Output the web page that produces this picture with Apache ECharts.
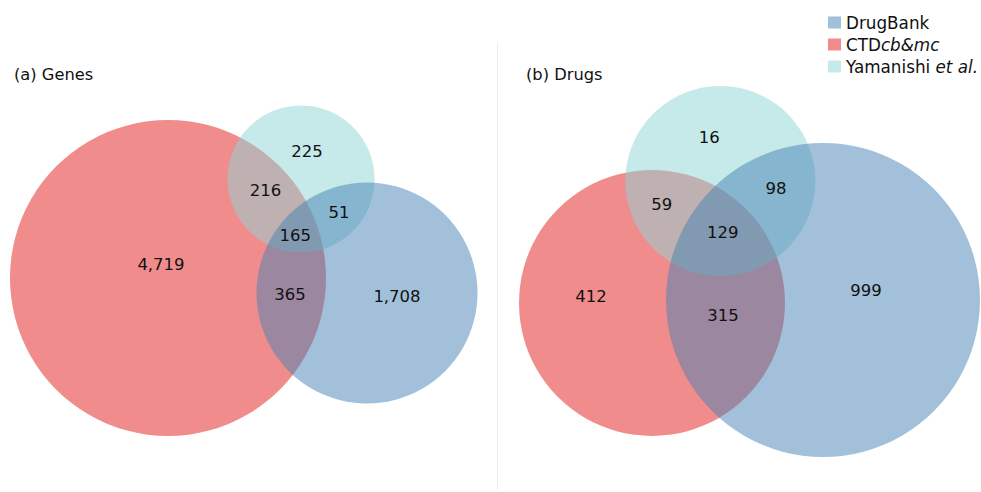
<!DOCTYPE html>
<html>
<head>
<meta charset="utf-8">
<script src="https://cdn.jsdelivr.net/npm/echarts@6/dist/echarts.min.js"></script>
<style>
  html, body { margin: 0; padding: 0; background: #fff; }
  #chart { width: 981px; height: 492px; }
</style>
</head>
<body>
<div id="chart"></div>
<script>
// Set names as they appear in the legend (display order)
const setNames = ['DrugBank', 'CTD', 'Yamanishi'];

// Venn regions, in the same order for both panels
const regionKeys = ['CTD only', 'CTD & DrugBank', 'CTD & Yamanishi', 'All three',
                    'DrugBank only', 'DrugBank & Yamanishi', 'Yamanishi only'];

// Counts per region
const geneCounts = [4719, 365, 216, 165, 1708, 51, 225];
const drugCounts = [412, 315, 59, 129, 999, 98, 16];

// Panel titles
const panelTitles = ['(a) Genes', '(b) Drugs'];

// ---- layout (canvas units: 1 unit = 1 px) ----
// circle geometry [cx, cy, r] per set, per panel
const geneCircles = { CTD: [168, 278, 158], DrugBank: [367, 293, 110.5], Yamanishi: [301, 179, 73.5] };
const drugCircles = { CTD: [652, 303, 133], DrugBank: [823, 300, 157], Yamanishi: [720.3, 181, 95] };
// label anchor per region (same order as regionKeys)
const geneLabelPos = [[161, 264], [290, 294], [265.5, 190.3], [295.3, 235.5], [397, 296], [339, 212], [307, 151]];
const drugLabelPos = [[591, 296], [723, 315], [661.7, 204.7], [722.8, 232.5], [866, 290], [776, 188.7], [709.3, 137.8]];

const setColors = {
  CTD: 'rgba(228, 26, 28, 0.5)',
  Yamanishi: 'rgba(141, 213, 213, 0.5)',
  DrugBank: 'rgba(70, 130, 180, 0.5)'
};

const FONT = 'DejaVu Sans';
const fmt = v => v.toLocaleString('en-US');

function circleSeries(name) {
  return {
    name: name,
    type: 'custom',
    coordinateSystem: 'cartesian2d',
    silent: true,
    itemStyle: { color: setColors[name] },
    data: [geneCircles[name], drugCircles[name]],
    renderItem: function (params, api) {
      const c = api.coord([api.value(0), api.value(1)]);
      const s = api.size([api.value(2), api.value(2)]);
      return {
        type: 'circle',
        shape: { cx: c[0], cy: c[1], r: Math.abs(s[0]) },
        style: { fill: setColors[name] }
      };
    }
  };
}

const labelData = []
  .concat(geneLabelPos.map((p, i) => [p[0], p[1], geneCounts[i]]))
  .concat(drugLabelPos.map((p, i) => [p[0], p[1], drugCounts[i]]));

const chart = echarts.init(document.getElementById('chart'), null, { renderer: 'svg' });

chart.setOption({
  animation: false,
  backgroundColor: '#ffffff',
  textStyle: { fontFamily: FONT },
  grid: { left: 0, right: 0, top: 0, bottom: 0 },
  xAxis: { type: 'value', min: 0, max: 981, show: false },
  yAxis: { type: 'value', min: 0, max: 492, inverse: true, show: false },
  legend: {
    data: setNames,
    orient: 'vertical',
    left: 828,
    top: 14,
    padding: 0,
    itemWidth: 13,
    itemHeight: 12,
    itemGap: 5,
    icon: 'rect',
    selectedMode: false,
    formatter: function (name) {
      if (name === 'CTD') return 'CTD{i|cb&mc}';
      if (name === 'Yamanishi') return 'Yamanishi {i|et al.}';
      return name;
    },
    textStyle: {
      fontFamily: FONT, fontSize: 16.8, color: '#111', lineHeight: 16,
      rich: {
        i: { fontFamily: FONT, fontSize: 16.8, fontStyle: 'italic', color: '#111', lineHeight: 16 }
      }
    }
  },
  graphic: [
    { type: 'line', shape: { x1: 497.5, y1: 43, x2: 497.5, y2: 490 }, style: { stroke: '#ececec', lineWidth: 1 }, z: 0 },
    { type: 'text', left: 14, top: 66, style: { text: panelTitles[0], font: '16.3px "DejaVu Sans"', fill: '#111' } },
    { type: 'text', left: 526, top: 66, style: { text: panelTitles[1], font: '16.3px "DejaVu Sans"', fill: '#111' } }
  ],
  series: [
    circleSeries('CTD'),
    circleSeries('Yamanishi'),
    circleSeries('DrugBank'),
    {
      name: 'counts',
      type: 'custom',
      coordinateSystem: 'cartesian2d',
      silent: true,
      z: 10,
      data: labelData,
      renderItem: function (params, api) {
        const c = api.coord([api.value(0), api.value(1)]);
        return {
          type: 'text',
          x: c[0], y: c[1],
          style: {
            text: fmt(api.value(2)),
            font: '16.5px "DejaVu Sans"',
            fill: '#111',
            align: 'center',
            verticalAlign: 'middle'
          }
        };
      }
    }
  ]
});
</script>
</body>
</html>
